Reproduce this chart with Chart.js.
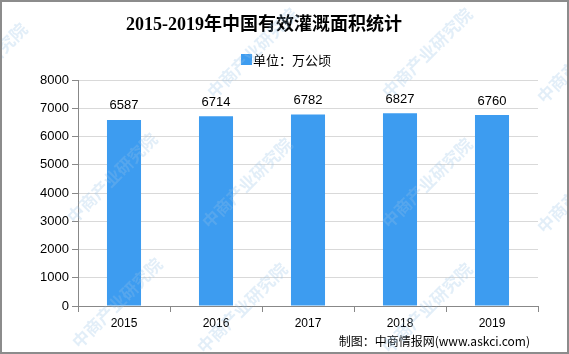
<!DOCTYPE html>
<html>
<head>
<meta charset="utf-8">
<script src="https://cdn.jsdelivr.net/npm/chart.js@4"></script>
<style>
  html, body { margin: 0; padding: 0; background: #fff; }
  #wrap { position: relative; width: 569px; height: 354px; }
</style>
</head>
<body>
<div id="wrap"><canvas id="barChart" width="569" height="354"></canvas></div>
<script>
// data
const years = ["2015", "2016", "2017", "2018", "2019"];
const area = [6587, 6714, 6782, 6827, 6760];
const yTicks = [0, 1000, 2000, 3000, 4000, 5000, 6000, 7000, 8000];

const titleText = "2015-2019年中国有效灌溉面积统计";
const legendText = "单位：万公顷";
const sourceText = "制图：中商情报网(www.askci.com)";
const watermarkText = "中商产业研究院";

const barColor = "#3d9cf0";
const sans = "'Liberation Sans', Arial, 'Noto Sans CJK SC', sans-serif";

// frame, title, legend, source note, value labels, watermark
const decorations = {
  id: "decorations",
  beforeDraw(chart) {
    const ctx = chart.ctx;
    ctx.save();
    ctx.fillStyle = "#fff";
    ctx.fillRect(0, 0, chart.width, chart.height);
    ctx.restore();
  },
  afterDatasetsDraw(chart) {
    const ctx = chart.ctx;
    ctx.save();

    // value labels above bars
    const meta = chart.getDatasetMeta(0);
    ctx.font = "13px " + sans;
    ctx.fillStyle = "#000";
    ctx.textAlign = "center";
    ctx.textBaseline = "middle";
    meta.data.forEach((bar, i) => {
      ctx.fillText(String(area[i]), bar.x, bar.y - 14);
    });

    // title
    ctx.font = "bold 18px 'Liberation Serif', 'Noto Sans CJK SC', serif";
    ctx.fillText(titleText, 264, 25);

    // legend
    ctx.fillStyle = barColor;
    ctx.fillRect(241, 54, 11, 11);
    ctx.fillStyle = "#000";
    ctx.textAlign = "left";
    ctx.font = "13px 'Noto Sans CJK SC', sans-serif";
    ctx.fillText(legendText, 253, 60);

    // source
    ctx.font = "12px 'Noto Sans CJK SC', sans-serif";
    ctx.textAlign = "right";
    ctx.fillText(sourceText, 530, 341);

    // watermark
    ctx.font = "bold 17px 'Noto Sans CJK SC', sans-serif";
    ctx.fillStyle = "rgba(150, 195, 230, 0.28)";
    ctx.textAlign = "left";
    const spots = [[70, 220], [75, 345], [210, 95], [205, 225], [200, 350], [385, 95], [385, 225], [385, 350], [540, 100], [540, 230], [-60, 110]];
    spots.forEach(([x, y]) => {
      ctx.save();
      ctx.translate(x, y);
      ctx.rotate(-Math.PI / 4);
      ctx.fillText(watermarkText, 0, 0);
      ctx.restore();
    });

    // outer frame
    ctx.strokeStyle = "#8c8c8c";
    ctx.lineWidth = 2;
    ctx.strokeRect(1, 1, chart.width - 2, chart.height - 2);
    ctx.restore();
  }
};

new Chart(document.getElementById("barChart").getContext("2d"), {
  type: "bar",
  data: {
    labels: years,
    datasets: [{
      label: legendText,
      data: area,
      backgroundColor: barColor,
      borderWidth: 0,
      barPercentage: 0.37,
      categoryPercentage: 1
    }]
  },
  options: {
    responsive: false,
    animation: false,
    devicePixelRatio: 1,
    layout: { padding: { left: 0, top: 80, right: 31, bottom: 0 } },
    plugins: {
      legend: { display: false },
      title: { display: false },
      tooltip: { enabled: false }
    },
    scales: {
      x: {
        grid: { display: true, drawOnChartArea: false, offset: true, tickLength: 6, tickColor: "#888" },
        border: { color: "#888" },
        ticks: { color: "#000", font: { size: 12, family: sans }, padding: 4 },
        afterFit(scale) { scale.height = 48; }
      },
      y: {
        min: 0,
        max: 8000,
        afterBuildTicks(scale) { scale.ticks = yTicks.map((v) => ({ value: v })); },
        grid: { color: "#d9d9d9", tickLength: 6, tickColor: "#888" },
        border: { color: "#888" },
        ticks: {
          color: "#000",
          font: { size: 13, family: sans },
          padding: 3,
          callback: (v) => String(v)
        },
        afterFit(scale) { scale.width = 78; }
      }
    }
  },
  plugins: [decorations]
});
</script>
</body>
</html>
